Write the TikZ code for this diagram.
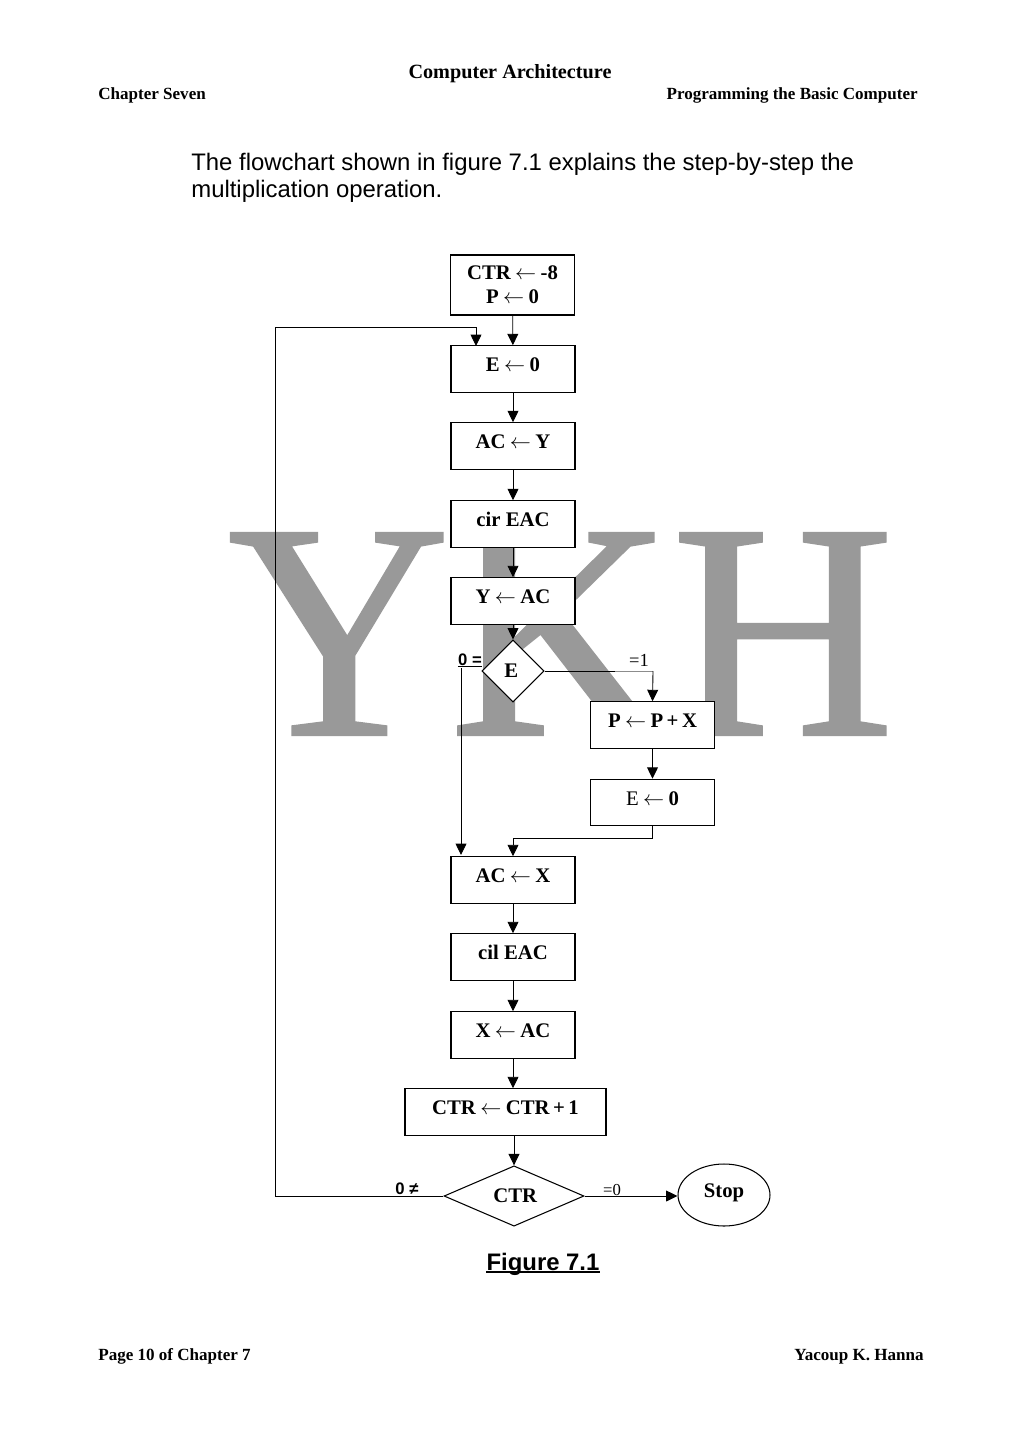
\documentclass[tikz,border=0pt]{standalone}
\usepackage{fontspec}
\setmainfont{Liberation Serif}
\setsansfont{Liberation Sans}
\newfontfamily\markfont[FakeBold=1.0]{Liberation Serif}
\usetikzlibrary{shapes.geometric,arrows.meta}
\newcommand{\toarrow}{\kern2.5pt$\leftarrow$\kern2.5pt}
\tikzset{
  opbox/.style={draw,fill=white,line width=0.6pt,minimum width=2.48cm,minimum height=0.93cm,inner sep=0pt,
    font=\fontsize{11.8}{13.7}\selectfont\bfseries,text height=9pt,text depth=5.8pt},
  testbox/.style={draw,fill=white,diamond,line width=0.6pt,inner sep=0pt,font=\fontsize{11.8}{13.7}\selectfont\bfseries},
  flow/.style={line width=0.5pt,-{Triangle[width=6.2pt,length=6.5pt]}},
  link/.style={line width=0.5pt},
  small/.style={font=\fontsize{9.7}{11}\selectfont\bfseries},
  mini/.style={font=\fontsize{9.5}{11}\selectfont\sffamily\bfseries},
  plain/.style={font=\fontsize{10.5}{12}\selectfont}
}
\begin{document}
\begin{tikzpicture}[x=0.02cm,y=-0.02cm]
\fill[white] (0,0) rectangle (1024,1449);
\useasboundingbox (0,0) rectangle (1024,1449);

% page furniture
\node[anchor=base,inner sep=0pt,font=\fontsize{11.5}{13}\selectfont\bfseries] (head) at (510,79) {Computer Architecture};
\node[small,anchor=base west,inner sep=0pt] (chap) at (98,100) {Chapter Seven};
\node[small,anchor=base east,inner sep=0pt] (prog) at (918,100) {Programming the Basic Computer};
\node[anchor=west,inner sep=0pt,align=left,font=\fontsize{13.6}{15.5}\selectfont\sffamily] (intro) at (191,178) {The flowchart shown in figure 7.1 explains the step-by-step the\\multiplication operation.};
\node[small,anchor=base west,inner sep=0pt] (page) at (98,1360) {Page 10 of Chapter 7};
\node[small,anchor=base east,inner sep=0pt] (name) at (924,1360) {Yacoup K. Hanna};

% watermark
\node[text=black!40,inner sep=0pt,font=\fontsize{175}{175}\markfont] (mark) at (561,634) {YKH};

% boxes
\node[opbox,minimum height=1.2cm,text height=,text depth=,align=center] (init) at (512.5,285) {CTR\toarrow-8\\P\toarrow0};
\node[opbox] (eset) at (513,369) {E\toarrow0};
\node[opbox] (acy) at (513,446) {AC\toarrow Y};
\node[opbox] (cir) at (513,524) {cir EAC};
\node[opbox] (yac) at (513,601) {Y\toarrow AC};
\node[testbox,minimum width=1.24cm,minimum height=1.24cm] (etest) at (513,671) {\kern-2pt E};
\node[opbox] (padd) at (652.5,725) {P\toarrow P\kern2pt+\kern2pt X};
\node[opbox] (eclr) at (652.5,802.5) {\textmd{E}\toarrow0};
\node[opbox] (acx) at (513,880) {AC\toarrow X};
\node[opbox] (cil) at (513,957) {cil EAC};
\node[opbox] (xac) at (513,1035) {X\toarrow AC};
\node[opbox,minimum width=4.02cm] (inc) at (505.5,1112) {CTR\toarrow CTR\kern2pt+\kern2pt1};
\node[testbox,minimum width=2.8cm,minimum height=1.2cm] (ctest) at (514,1196) {\kern1.5pt\raisebox{-1pt}{CTR}};
\node[draw,ellipse,line width=0.6pt,minimum width=1.84cm,minimum height=1.24cm,inner sep=0pt,
  font=\fontsize{11.8}{13.7}\selectfont\bfseries,text height=9pt,text depth=6.5pt] (stop) at (724,1195) {Stop};

% labels
\node[mini,anchor=base,inner sep=0pt] (zero) at (470,665) {0 =};
\node[plain,inner sep=0pt] (one) at (639,660) {=1};
\node[mini,anchor=base,inner sep=0pt] (nz) at (407,1194) {0 ≠};
\node[inner sep=0pt,font=\fontsize{9.5}{11}\selectfont] (eq) at (612,1190) {=0};
\node[anchor=base,inner sep=0pt,font=\fontsize{13.6}{15.5}\selectfont\sffamily\bfseries] (fig) at (543,1270) {Figure 7.1};
\draw[line width=0.8pt] ([yshift=-1pt]zero.base west) -- ([yshift=-1pt]zero.base east);
\draw[line width=1.1pt] ([yshift=-1.3pt]fig.base west) -- ([yshift=-1.3pt]fig.base east);

% free ends of the connectors
\coordinate (loopa) at (275,1196);
\coordinate (loopb) at (275,327);
\coordinate (loopc) at (476,327);
\coordinate (loopd) at (476,346);
\coordinate (lefta) at (461,668);
\coordinate (leftb) at (461,855);
\coordinate (fade) at (615,671);
\coordinate (turn) at (653,671);
\coordinate (join) at (513,838);

% connectors
\draw[flow] (init) -- (eset);
\draw[flow] (eset) -- (acy);
\draw[flow] (acy) -- (cir);
\draw[flow] (cir) -- (yac);
\draw[flow] (yac) -- (etest);
\draw[link] (etest.east) -- (fade);
\draw[link,black!45] (fade) -- (turn);
\draw[flow] (turn) -- (padd.north);
\draw[flow] (padd) -- (eclr);
\draw[flow] (eclr.south) |- (join) -- (acx.north);
\draw[flow] (lefta) -- (leftb);
\draw[flow] (acx) -- (cil);
\draw[flow] (cil) -- (xac);
\draw[flow] (xac.south) -- (xac.south |- inc.north);
\draw[flow] (inc.south -| ctest.north) -- (ctest.north);
\draw[flow] (ctest.east) -- (stop.west |- ctest.east);
\draw[flow] (ctest.west) -- (loopa) -- (loopb) -- (loopc) -- (loopd);
\end{tikzpicture}
\end{document}
